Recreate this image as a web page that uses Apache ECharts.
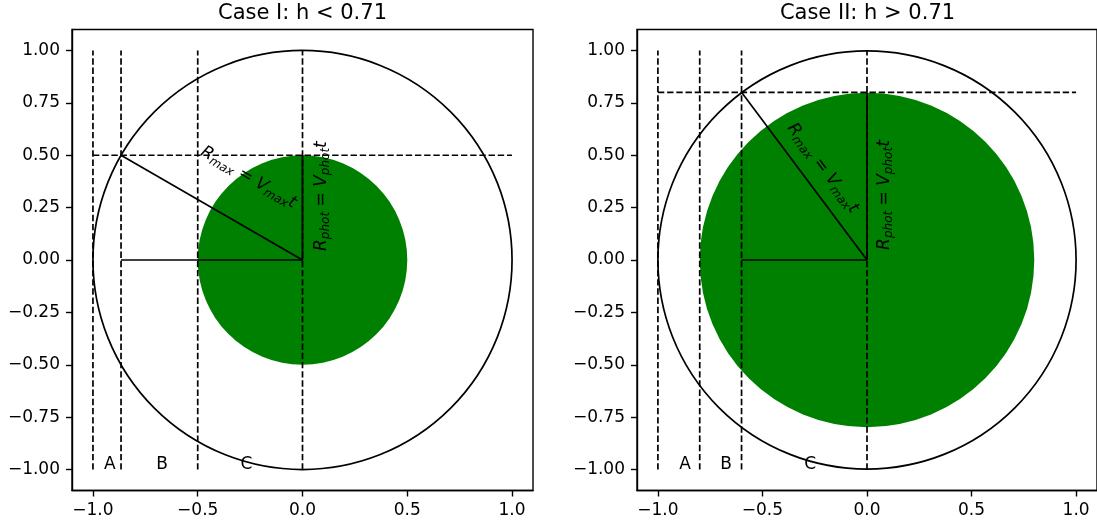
<!DOCTYPE html>
<html>
<head>
<meta charset="utf-8">
<script src="https://cdn.jsdelivr.net/npm/echarts@6/dist/echarts.min.js"></script>
<style>
  html, body { margin: 0; padding: 0; background: #fff; }
  #chart { width: 1097px; height: 527px; }
</style>
</head>
<body>
<div id="chart"></div>
<script>
// values
var titles = ['Case I: h < 0.71', 'Case II: h > 0.71'];
var hValues = [0.5, 0.8];
var xTicks = [-1, -0.5, 0, 0.5, 1];
var yTicks = [-1, -0.75, -0.5, -0.25, 0, 0.25, 0.5, 0.75, 1];

// vertical dashed lines (x), run from y=-1 to y=1
var dashXCase1 = [-1, -0.866, -0.5, 0];
var dashXCase2 = [-1, -0.8, -0.6, 0];

// solid segments [x1, y1, x2, y2]
var solidCase1 = [[-0.866, 0.5, 0, 0], [-0.866, 0, 0, 0], [0, 0, 0, 0.5]];
var solidCase2 = [[-0.6, 0.8, 0, 0], [-0.6, 0, 0, 0], [0, 0, 0, 0.8]];

// region labels
var regionNames = ['A', 'B', 'C'];
var regionXCase1 = [-0.92, -0.67, -0.267];
var regionXCase2 = [-0.87, -0.674, -0.272];
var regionY = -1;

// rotated formula labels [x, y, angle in degrees]
var rmaxLabel = [[-0.26, 0.39, -30], [-0.215, 0.435, -53.1]];
var rphotLabel = [[0.095, 0.305, 90], [0.09, 0.31, 90]];

var FONT = 'DejaVu Sans';
var chart = echarts.init(document.getElementById('chart'));

function minus(s) { return s.replace('-', '\u2212'); }

var gridLefts = [72, 637];
var grids = [], xAxes = [], yAxes = [], series = [], graphics = [];

function segRender(dash) {
  return function (params, api) {
    var p1 = api.coord([api.value(0), api.value(1)]);
    var p2 = api.coord([api.value(2), api.value(3)]);
    return {
      type: 'line',
      shape: { x1: p1[0], y1: p1[1], x2: p2[0], y2: p2[1] },
      style: { stroke: '#000', lineWidth: 1.7, lineDash: dash ? [6.4, 2.8] : null, fill: null }
    };
  };
}

function circleRender(fill) {
  return function (params, api) {
    var c = api.coord([api.value(0), api.value(1)]);
    var r = api.size([api.value(2), 0])[0];
    return {
      type: 'circle',
      shape: { cx: c[0], cy: c[1], r: r },
      style: fill ? { fill: '#008000', stroke: null } : { fill: null, stroke: '#000', lineWidth: 1.7 }
    };
  };
}

var richStyles = {
  i: { fontFamily: FONT, fontStyle: 'italic', fontSize: 17, lineHeight: 19, verticalAlign: 'top', color: '#000' },
  n: { fontFamily: FONT, fontSize: 17, lineHeight: 19, verticalAlign: 'top', color: '#000' },
  s: { fontFamily: FONT, fontStyle: 'italic', fontSize: 12, lineHeight: 12, verticalAlign: 'bottom', color: '#000' }
};

function formulaRender(text) {
  return function (params, api) {
    var p = api.coord([api.value(0), api.value(1)]);
    return {
      type: 'text',
      x: p[0], y: p[1],
      rotation: api.value(2) * Math.PI / 180,
      style: { text: text, rich: richStyles, align: 'center', verticalAlign: 'middle' }
    };
  };
}

for (var k = 0; k < 2; k++) {
  var h = hValues[k];
  grids.push({
    left: gridLefts[k], top: 29.5, width: 461, height: 461,
    show: true, borderColor: '#000', borderWidth: 1.4, containLabel: false
  });
  xAxes.push({
    type: 'value', gridIndex: k, min: -1.1, max: 1.1,
    splitLine: { show: false },
    axisLine: { show: true, onZero: false, lineStyle: { color: '#000', width: 1.4 } },
    axisTick: { show: true, customValues: xTicks, length: 6, lineStyle: { color: '#000', width: 1.4 } },
    axisLabel: {
      customValues: xTicks, margin: 12, color: '#000', fontFamily: FONT, fontSize: 17,
      formatter: function (v) { return minus(v.toFixed(1)); }
    }
  });
  yAxes.push({
    type: 'value', gridIndex: k, min: -1.1, max: 1.1,
    splitLine: { show: false },
    axisLine: { show: true, onZero: false, lineStyle: { color: '#000', width: 1.4 } },
    axisTick: { show: true, customValues: yTicks, length: 6, lineStyle: { color: '#000', width: 1.4 } },
    axisLabel: {
      customValues: yTicks, margin: 12, color: '#000', fontFamily: FONT, fontSize: 17,
      formatter: function (v) { return minus(v.toFixed(2)); }
    }
  });

  var dashX = k === 0 ? dashXCase1 : dashXCase2;
  var dashed = dashX.map(function (x) { return [x, -1, x, 1]; });
  dashed.push([-1, h, 1, h]);
  var solid = k === 0 ? solidCase1 : solidCase2;
  var regionX = k === 0 ? regionXCase1 : regionXCase2;

  series.push({
    type: 'custom', xAxisIndex: k, yAxisIndex: k, silent: true, z: 1,
    data: [[0, 0, h]], renderItem: circleRender(true)
  });
  series.push({
    type: 'custom', xAxisIndex: k, yAxisIndex: k, silent: true, z: 2,
    data: [[0, 0, 1]], renderItem: circleRender(false)
  });
  series.push({
    type: 'custom', xAxisIndex: k, yAxisIndex: k, silent: true, z: 3,
    data: dashed, renderItem: segRender(true)
  });
  series.push({
    type: 'custom', xAxisIndex: k, yAxisIndex: k, silent: true, z: 4,
    data: solid, renderItem: segRender(false)
  });
  series.push({
    type: 'custom', xAxisIndex: k, yAxisIndex: k, silent: true, z: 5,
    data: regionX.map(function (x) { return [x, regionY]; }),
    renderItem: function (params, api) {
      var p = api.coord([api.value(0), api.value(1)]);
      return {
        type: 'text', x: p[0], y: p[1] + 4,
        style: { text: regionNames[params.dataIndex], fill: '#000', font: '17px "DejaVu Sans"', align: 'center', verticalAlign: 'bottom' }
      };
    }
  });
  series.push({
    type: 'custom', xAxisIndex: k, yAxisIndex: k, silent: true, z: 6,
    data: [rmaxLabel[k]],
    renderItem: formulaRender('{i|R}{s|max}{n| = }{i|V}{s|max}{i|t}')
  });
  series.push({
    type: 'custom', xAxisIndex: k, yAxisIndex: k, silent: true, z: 6,
    data: [rphotLabel[k]],
    renderItem: formulaRender('{i|R}{s|phot}{n| = }{i|V}{s|phot}{i|t}')
  });

  graphics.push({
    type: 'text', x: gridLefts[k] + 230.5, y: 13.5,
    style: { text: titles[k], fill: '#000', font: '21px "DejaVu Sans"', align: 'center', verticalAlign: 'middle' }
  });
}

chart.setOption({
  animation: false,
  backgroundColor: '#fff',
  grid: grids,
  xAxis: xAxes,
  yAxis: yAxes,
  series: series,
  graphic: graphics
});
</script>
</body>
</html>
